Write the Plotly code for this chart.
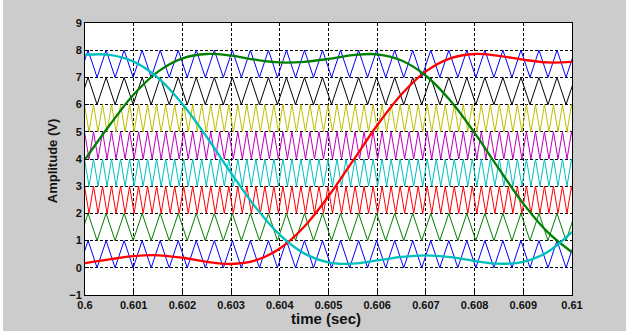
import numpy as np
import plotly.graph_objects as go

# Sample instants (s) for the three modulating (reference) waveforms
time_s = [0.6000, 0.6005, 0.6010, 0.6015, 0.6020, 0.6025, 0.6030, 0.6035,
          0.6040, 0.6045, 0.6050, 0.6055, 0.6060, 0.6065, 0.6070, 0.6075,
          0.6080, 0.6085, 0.6090, 0.6095, 0.6100]

# Reference waveforms (V), three-phase with third-harmonic injection
ref_red = [0.17, 0.31, 0.43, 0.46, 0.37, 0.22, 0.14, 0.27, 0.71, 1.51, 2.63,
           3.93, 5.24, 6.38, 7.22, 7.70, 7.86, 7.79, 7.65, 7.55, 7.57]
ref_green = [3.98, 5.23, 6.37, 7.21, 7.70, 7.86, 7.80, 7.65, 7.55, 7.57, 7.68,
             7.82, 7.85, 7.62, 7.06, 6.15, 4.96, 3.64, 2.36, 1.31, 0.57]
ref_cyan = [7.83, 7.83, 7.58, 6.98, 6.02, 4.81, 3.48, 2.23, 1.21, 0.53, 0.20,
            0.15, 0.27, 0.40, 0.46, 0.39, 0.25, 0.15, 0.22, 0.58, 1.32]

ref_names = ["Ref A", "Ref B", "Ref C"]
ref_colors = ["#ff0000", "#008000", "#00bfbf"]

# Level-shifted triangular carriers: lower level of each band, colour,
# frequency (Hz) and time of the first positive peak (s)
carrier_low = [0, 1, 2, 3, 4, 5, 6, 7]
carrier_colors = ["#0000ff", "#008000", "#ff0000", "#00bfbf",
                  "#bf00bf", "#bfbf00", "#000000", "#0000ff"]
carrier_freq = [2700, 2700, 5400, 5400, 5400, 5400, 2700, 2700]
carrier_first_peak = [0.600063, 0.600063, 0.599990, 0.599990,
                      0.599990, 0.599990, 0.600063, 0.600063]

x_ticks = [0.6, 0.601, 0.602, 0.603, 0.604, 0.605, 0.606, 0.607, 0.608, 0.609, 0.61]
x_tick_text = ["0.6", "0.601", "0.602", "0.603", "0.604", "0.605",
               "0.606", "0.607", "0.608", "0.609", "0.61"]
y_ticks = [-1, 0, 1, 2, 3, 4, 5, 6, 7, 8, 9]

fig = go.Figure()

# Carrier triangles: alternate peak/valley vertices every half period
for low, color, freq, t_peak in zip(carrier_low, carrier_colors,
                                    carrier_freq, carrier_first_peak):
    half = 0.5 / freq
    k = np.arange(-4, int(0.0105 / half) + 6)
    tv = t_peak + k * half
    vv = np.where(k % 2 == 0, low + 1.0, low + 0.0)
    fig.add_trace(go.Scatter(x=tv, y=vv, mode="lines",
                             line=dict(color=color, width=1),
                             hoverinfo="skip", showlegend=False))

for name, vals, color in zip(ref_names, [ref_red, ref_green, ref_cyan], ref_colors):
    fig.add_trace(go.Scatter(x=time_s, y=vals, mode="lines", name=name,
                             line=dict(color=color, width=2.3, shape="spline",
                                       smoothing=1.0),
                             showlegend=False))

tick_font = dict(family="Liberation Sans, Arial, sans-serif", size=11,
                 color="#111111", weight="bold")
axis_common = dict(showgrid=True, gridcolor="#000000", gridwidth=1,
                   griddash="3px,2px", zeroline=False, showline=True,
                   linecolor="#000000", linewidth=1, mirror=True,
                   ticks="inside", ticklen=4, tickcolor="#000000",
                   tickfont=tick_font)

fig.update_xaxes(range=[0.6, 0.61], tickvals=x_ticks, ticktext=x_tick_text,
                 **axis_common)
fig.update_yaxes(range=[-1, 9], tickvals=y_ticks, **axis_common)

fig.update_layout(
    width=626, height=331,
    margin=dict(l=85, r=54, t=23, b=36),
    paper_bgcolor="#cccccc",
    plot_bgcolor="#ffffff",
    showlegend=False,
    annotations=[
        dict(text="time (sec)", xref="paper", yref="paper", x=0.495, y=-0.088,
             xanchor="center", yanchor="middle", showarrow=False,
             font=dict(family="Liberation Sans, Arial, sans-serif", size=15,
                       color="#111111", weight="bold")),
        dict(text="Amplitude (V)", xref="paper", yref="paper", x=-0.068, y=0.495,
             xanchor="center", yanchor="middle", textangle=-90, showarrow=False,
             font=dict(family="Liberation Sans, Arial, sans-serif", size=13,
                       color="#111111", weight="bold")),
    ],
    shapes=[
        dict(type="rect", xref="paper", yref="paper", x0=-85 / 487, x1=-82 / 487,
             y0=-36 / 272, y1=1 + 23 / 272, fillcolor="#ffffff", line=dict(width=0),
             layer="below"),
    ],
)

fig.write_html("out.html")
